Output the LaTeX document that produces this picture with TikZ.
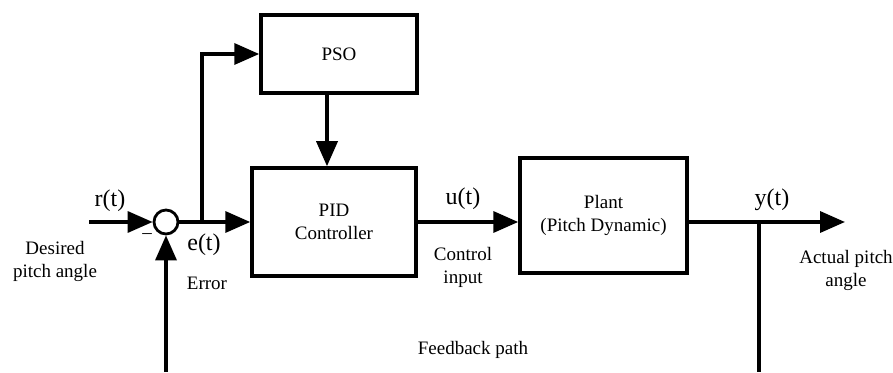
\documentclass[tikz,border=0pt]{standalone}
\usepackage{fontspec}
\setmainfont{Liberation Serif}
\usetikzlibrary{arrows.meta}

\begin{document}
\begin{tikzpicture}[x=1pt, y=1pt,
  block/.style={rectangle, draw, line width=3.5pt, inner sep=0pt,
                font=\fontsize{19}{23}\selectfont, align=center},
  sum/.style={circle, draw, line width=2.8pt, minimum size=24pt, inner sep=0pt},
  arr/.style={-{Triangle[length=25pt, width=21pt]}, line width=3.5pt},
  wire/.style={line width=3.5pt},
  sig/.style={font=\fontsize{24}{26}\selectfont},
  txt/.style={font=\fontsize{19}{23}\selectfont, align=center}
]
  \useasboundingbox (0,0) rectangle (893,372);

  % Blocks
  \node[block, minimum width=156pt, minimum height=78pt] (pso) at (339,318) {PSO};
  \node[block, minimum width=164pt, minimum height=108pt] (pid) at (334,150) {PID\\Controller};
  \node[block, minimum width=167pt, minimum height=115pt] (plant) at (603.5,156.5) {Plant\\(Pitch Dynamic)};
  \node[sum] (s) at (166,150) {};

  % Free ends
  \coordinate (in) at (89,150);
  \coordinate (out) at (845,150);
  \coordinate (br) at (202,150);
  \coordinate (yb) at (759,150);
  \coordinate (fbl) at (166,0);
  \coordinate (fbr) at (759,0);

  % Forward path
  \draw[arr] (in) -- (s);
  \draw[arr] (s) -- (pid);
  \draw[arr] (pid) -- (pid -| plant.west);
  \draw[arr] (plant.east |- pid) -- (out);

  % Tuning
  \draw[arr] (br) |- (pso.west);
  \draw[arr] ([xshift=-12pt]pso.south) -- ([xshift=-12pt]pso.south |- pid.north);

  % Feedback
  \draw[wire] (yb) -- (fbr);
  \draw[arr] (fbl) -- (s);

  % Labels
  \node[sig] (r) at (110,171) {r(t)};
  \node[sig] (e) at (204,127) {e(t)};
  \node[sig] (u) at (463,173) {u(t)};
  \node[sig] (y) at (772,172) {y(t)};
  \node[txt] (minus) at (147,136) {--};
  \node[txt] (desired) at (55,111) {Desired\\pitch angle};
  \node[txt] (error) at (207,89) {Error};
  \node[txt] (ctrl) at (463,105) {Control\\input};
  \node[txt] (actual) at (846,102) {Actual pitch\\angle};
  \node[txt] (fbtext) at (473,22) {Feedback path};
\end{tikzpicture}
\end{document}
